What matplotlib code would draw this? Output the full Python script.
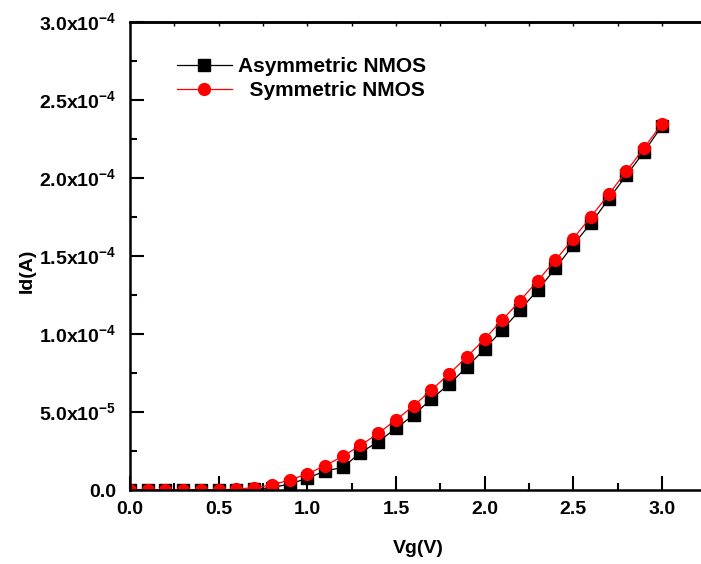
import numpy as np
import matplotlib
matplotlib.use("Agg")
import matplotlib.pyplot as plt
from matplotlib.ticker import FixedLocator, FuncFormatter

plt.rcParams['font.family'] = ['Liberation Sans', 'DejaVu Sans']
plt.rcParams['font.weight'] = 'bold'
plt.rcParams['mathtext.fontset'] = 'custom'
plt.rcParams['mathtext.rm'] = 'Liberation Sans'
plt.rcParams['mathtext.bf'] = 'Liberation Sans:bold'

vg = np.round(np.arange(0, 3.01, 0.1), 1)

# Id values (A)
id_asym = [0, 0, 0, 0, 0, 0, 0, 0.5e-6, 1.5e-6, 3.8e-6,
           7.5e-6, 1.22e-5, 1.45e-5, 2.39e-5, 3.10e-5, 3.95e-5, 4.81e-5, 5.83e-5, 6.79e-5, 7.87e-5,
           9.04e-5, 1.026e-4, 1.154e-4, 1.282e-4, 1.421e-4, 1.571e-4, 1.710e-4, 1.865e-4, 2.017e-4, 2.169e-4,
           2.333e-4]
id_sym = [0, 0, 0, 0, 0, 0, 0.6e-6, 1.5e-6, 3.2e-6, 6.4e-6,
          1.03e-5, 1.56e-5, 2.16e-5, 2.86e-5, 3.63e-5, 4.49e-5, 5.40e-5, 6.41e-5, 7.44e-5, 8.53e-5,
          9.68e-5, 1.090e-4, 1.213e-4, 1.342e-4, 1.474e-4, 1.611e-4, 1.752e-4, 1.895e-4, 2.043e-4, 2.194e-4,
          2.346e-4]

ylabels = {0: '0.0', 1: r'5.0x10$^{-5}$', 2: r'1.0x10$^{-4}$', 3: r'1.5x10$^{-4}$',
           4: r'2.0x10$^{-4}$', 5: r'2.5x10$^{-4}$', 6: r'3.0x10$^{-4}$'}

fig = plt.figure(figsize=(7.01, 5.64), dpi=100)
ax = fig.add_axes([0.1854, 0.1312, 0.822, 0.8298])

ax.plot(vg, id_asym, color='black', lw=0.9, marker='s', ms=8, label='Asymmetric NMOS')
ax.plot(vg, id_sym, color='red', lw=0.9, marker='o', ms=8.5, label='  Symmetric NMOS')

ax.set_xlim(0, 3.25)
ax.set_ylim(0, 3.0e-4)

ax.xaxis.set_major_locator(FixedLocator([0, 0.5, 1.0, 1.5, 2.0, 2.5, 3.0]))
ax.xaxis.set_minor_locator(FixedLocator([0.25, 0.75, 1.25, 1.75, 2.25, 2.75]))
ax.yaxis.set_major_locator(FixedLocator(np.arange(7) * 0.5e-4))
ax.yaxis.set_minor_locator(FixedLocator((np.arange(6) + 0.5) * 0.5e-4))
ax.xaxis.set_major_formatter(FuncFormatter(lambda v, p: '%.1f' % v))
ax.yaxis.set_major_formatter(FuncFormatter(lambda v, p: ylabels[int(round(v / 0.5e-4))]))

ax.tick_params(which='major', direction='in', length=10, width=1.5, labelsize=14, pad=8)
ax.tick_params(which='minor', direction='in', length=5, width=1.5)
ax.tick_params(axis='y', which='major', pad=10)

top = ax.secondary_xaxis('top')
top.set_xticks(np.arange(0.25, 3.01, 0.25))
top.tick_params(direction='in', length=3, width=1, labeltop=False)
top.spines['top'].set_linewidth(1.8)

for s in ax.spines.values():
    s.set_linewidth(1.8)

ax.set_xlabel('Vg(V)', fontsize=14, fontweight='bold', labelpad=16)
ax.set_ylabel('Id(A)', fontsize=14, fontweight='bold', labelpad=2)
ax.yaxis.set_label_coords(-0.163, 0.468)

ax.legend(loc='upper left', bbox_to_anchor=(0.0816, 0.925), frameon=False, fontsize=15,
          borderaxespad=0, borderpad=0,
          handlelength=2.64, handletextpad=0.29, labelspacing=0.25)

fig.savefig('out.png', dpi=100)
